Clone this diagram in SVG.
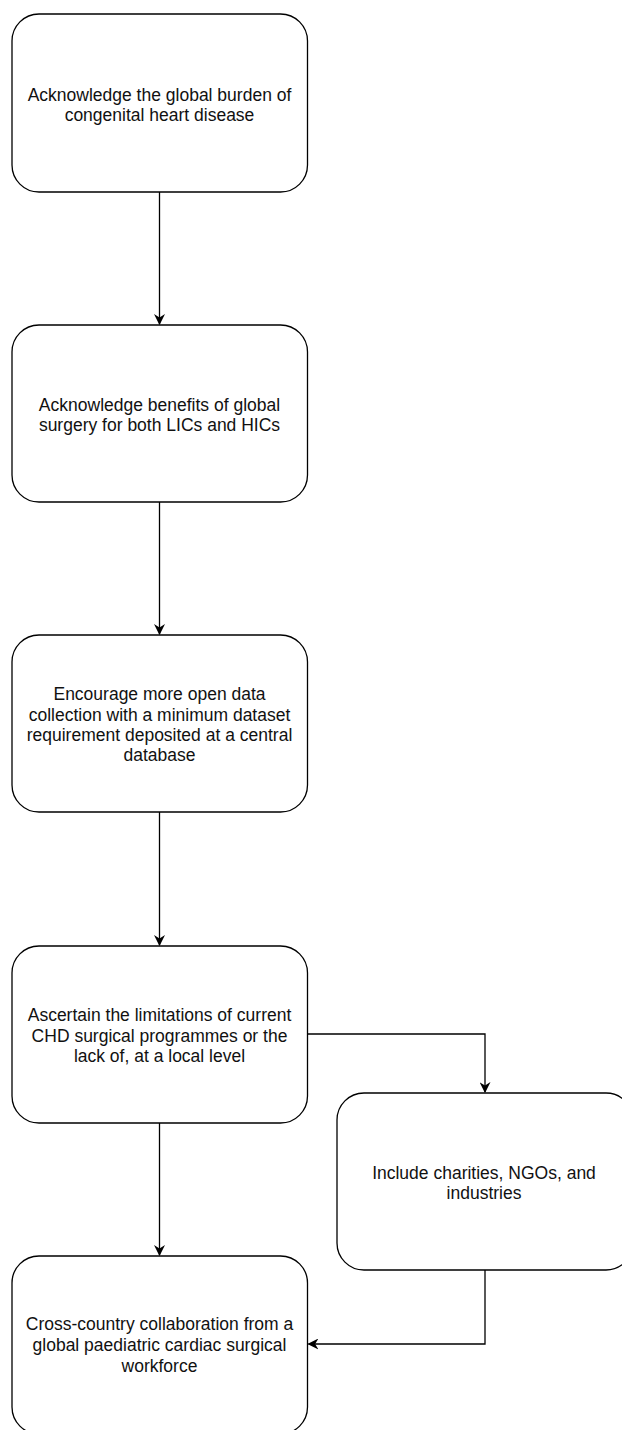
<svg xmlns="http://www.w3.org/2000/svg" width="622" height="1430" viewBox="0 0 622 1430">
<style>
.box{fill:#fff;stroke:#000;stroke-width:1.3}
.lbl{font-family:"Liberation Sans",Arial,sans-serif;font-size:17.5px;fill:#111;text-anchor:middle}
.edge{fill:none;stroke:#000;stroke-width:1.3}
</style>
<defs>
<marker id="arr" viewBox="0 0 10 10" refX="9" refY="5" markerWidth="11" markerHeight="11" markerUnits="userSpaceOnUse" orient="auto">
<path d="M0,0 L10,5 L0,10 L3,5 Z" fill="#000"/>
</marker>
</defs>
<rect width="622" height="1430" fill="#fff"/>
<g id="edges">
<path class="edge" d="M159.5,192 V324" marker-end="url(#arr)"/>
<path class="edge" d="M159.5,502 V634" marker-end="url(#arr)"/>
<path class="edge" d="M159.5,812 V945" marker-end="url(#arr)"/>
<path class="edge" d="M159.5,1123 V1255" marker-end="url(#arr)"/>
<path class="edge" d="M307.5,1034 H485 V1092" marker-end="url(#arr)"/>
<path class="edge" d="M485,1270 V1344 H308.5" marker-end="url(#arr)"/>
</g>
<g id="n1"><rect class="box" x="12" y="14" width="295.5" height="178" rx="27"/>
<text class="lbl" x="159.5" y="101">Acknowledge the global burden of</text>
<text class="lbl" x="159.5" y="121">congenital heart disease</text></g>
<g id="n2"><rect class="box" x="12" y="325" width="295.5" height="177" rx="27"/>
<text class="lbl" x="159.5" y="411">Acknowledge benefits of global</text>
<text class="lbl" x="159.5" y="431">surgery for both LICs and HICs</text></g>
<g id="n3"><rect class="box" x="12" y="635" width="295.5" height="177" rx="27"/>
<text class="lbl" x="159.5" y="700">Encourage more open data</text>
<text class="lbl" x="159.5" y="721">collection with a minimum dataset</text>
<text class="lbl" x="159.5" y="741">requirement deposited at a central</text>
<text class="lbl" x="159.5" y="761">database</text></g>
<g id="n4"><rect class="box" x="12" y="946" width="295.5" height="177" rx="27"/>
<text class="lbl" x="159.5" y="1021">Ascertain the limitations of current</text>
<text class="lbl" x="159.5" y="1042">CHD surgical programmes or the</text>
<text class="lbl" x="159.5" y="1062">lack of, at a local level</text></g>
<g id="n5"><rect class="box" x="337" y="1093" width="296" height="177" rx="27"/>
<text class="lbl" x="484" y="1179">Include charities, NGOs, and</text>
<text class="lbl" x="484" y="1199">industries</text></g>
<g id="n6"><rect class="box" x="12" y="1256" width="295.5" height="178" rx="27"/>
<text class="lbl" x="159.5" y="1330">Cross-country collaboration from a</text>
<text class="lbl" x="159.5" y="1351">global paediatric cardiac surgical</text>
<text class="lbl" x="159.5" y="1372">workforce</text></g>
</svg>
